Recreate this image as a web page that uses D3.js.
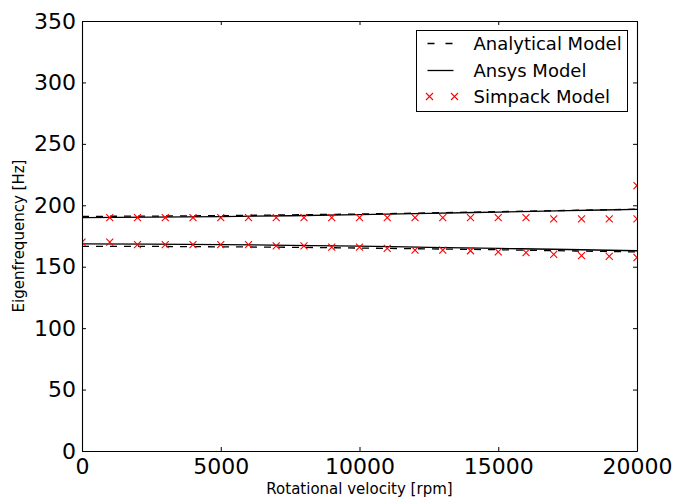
<!DOCTYPE html>
<html lang="en">
<head>
    <meta charset="UTF-8">
    <title>Eigenfrequency vs rotational velocity</title>
    <script src="https://d3js.org/d3.v7.min.js"></script>
    <style>
        body { margin: 0; background: #fff; }
        svg { font-family: "DejaVu Sans", sans-serif; }
    </style>
</head>
<body>
<div id="chart"></div>

<script>
    // Analytical / Ansys curves (two modes each)
    const curveRpm = [0, 2500, 5000, 7500, 10000, 12500, 15000, 17500, 20000];
    const analyticalUpper = [191.0, 191.2, 191.6, 192.2, 192.9, 193.8, 194.8, 195.8, 196.8];
    const analyticalLower = [166.6, 166.5, 166.2, 165.8, 165.2, 164.5, 163.8, 162.9, 162.0];
    const ansysUpper = [190.0, 190.3, 190.8, 191.5, 192.4, 193.4, 194.5, 195.6, 196.7];
    const ansysLower = [168.6, 168.4, 168.0, 167.4, 166.7, 165.8, 164.9, 164.0, 163.0];

    // Simpack points, every 1000 rpm
    const simpackRpm = [0, 1000, 2000, 3000, 4000, 5000, 6000, 7000, 8000, 9000, 10000,
        11000, 12000, 13000, 14000, 15000, 16000, 17000, 18000, 19000, 20000];
    const simpackUpper = [null, 190, 190, 190, 190, 190, 190, 190, 190, 190, 190,
        190, 190, 190, 190, 190, 190, 189, 189, 189, 189];
    const simpackLower = [170, 170, 168, 168, 168, 168, 168, 167, 167, 166, 166,
        165, 163.5, 163.5, 163, 162, 161.5, 160, 159, 158.5, 157.5];
    const simpackExtraRpm = [20000];
    const simpackExtra = [216];

    const xTicks = [0, 5000, 10000, 15000, 20000];
    const yTicks = [0, 50, 100, 150, 200, 250, 300, 350];
    const legendLabels = ["Analytical Model", "Ansys Model", "Simpack Model"];

    const W = 673, H = 497;
    const margin = {top: 21, right: 36, bottom: 46, left: 82};
    const w = W - margin.left - margin.right;
    const h = H - margin.top - margin.bottom;

    const svg = d3.select("#chart").append("svg")
        .attr("width", W)
        .attr("height", H);

    const g = svg.append("g").attr("transform", `translate(${margin.left},${margin.top})`);

    const x = d3.scaleLinear().domain([0, 20000]).range([0, w]);
    const y = d3.scaleLinear().domain([0, 350]).range([h, 0]);

    svg.append("defs").append("clipPath").attr("id", "plot-clip")
        .append("rect").attr("width", w).attr("height", h);

    const plot = g.append("g").attr("clip-path", "url(#plot-clip)");

    const line = d3.line()
        .x(d => x(d[0]))
        .y(d => y(d[1]))
        .curve(d3.curveMonotoneX);

    function pairs(xs, ys) {
        return xs.map((v, i) => [v, ys[i]]).filter(d => d[1] != null);
    }

    [ansysUpper, ansysLower].forEach(s => {
        plot.append("path")
            .attr("d", line(pairs(curveRpm, s)))
            .attr("fill", "none")
            .attr("stroke", "#000")
            .attr("stroke-width", 1.3);
    });
    [analyticalUpper, analyticalLower].forEach(s => {
        plot.append("path")
            .attr("d", line(pairs(curveRpm, s)))
            .attr("fill", "none")
            .attr("stroke", "#000")
            .attr("stroke-width", 1.3)
            .attr("stroke-dasharray", "7,7");
    });

    const cross = "M-3.5,-3.5L3.5,3.5M-3.5,3.5L3.5,-3.5";
    const simPoints = pairs(simpackRpm, simpackUpper)
        .concat(pairs(simpackRpm, simpackLower))
        .concat(pairs(simpackExtraRpm, simpackExtra));

    plot.selectAll(".sim")
        .data(simPoints)
        .join("path")
        .attr("class", "sim")
        .attr("d", cross)
        .attr("transform", d => `translate(${x(d[0])},${y(d[1])})`)
        .attr("stroke", "#ff0000")
        .attr("stroke-width", 1.1)
        .attr("fill", "none");

    // axes, ticks inside on all four sides
    function styleAxis(sel, showText) {
        sel.selectAll(".domain").attr("stroke", "#000").attr("stroke-width", 1.1);
        sel.selectAll(".tick line").attr("stroke", "#000").attr("stroke-width", 1);
        sel.selectAll(".tick text").attr("font-size", 22).attr("fill", "#000")
            .attr("font-family", "DejaVu Sans");
        if (!showText) sel.selectAll(".tick text").remove();
    }

    g.append("g").attr("transform", `translate(0,${h})`)
        .call(d3.axisBottom(x).tickValues(xTicks).tickFormat(d3.format("d"))
            .tickSizeInner(-4).tickSizeOuter(0).tickPadding(7))
        .call(s => styleAxis(s, true));
    g.append("g")
        .call(d3.axisTop(x).tickValues(xTicks).tickSizeInner(-4).tickSizeOuter(0))
        .call(s => styleAxis(s, false));
    g.append("g")
        .call(d3.axisLeft(y).tickValues(yTicks).tickFormat(d3.format("d"))
            .tickSizeInner(-4).tickSizeOuter(0).tickPadding(6))
        .call(s => styleAxis(s, true));
    g.append("g").attr("transform", `translate(${w},0)`)
        .call(d3.axisRight(y).tickValues(yTicks).tickSizeInner(-4).tickSizeOuter(0))
        .call(s => styleAxis(s, false));

    // axis labels
    svg.append("text")
        .attr("x", margin.left + w / 2)
        .attr("y", 494)
        .attr("text-anchor", "middle")
        .attr("font-size", 15)
        .text("Rotational velocity [rpm]");

    svg.append("text")
        .attr("transform", `translate(24,${margin.top + h / 2}) rotate(-90)`)
        .attr("text-anchor", "middle")
        .attr("font-size", 15)
        .text("Eigenfrequency [Hz]");

    // legend
    const legend = svg.append("g").attr("transform", "translate(416.5,30.5)");
    legend.append("rect")
        .attr("width", 211)
        .attr("height", 81)
        .attr("fill", "#fff")
        .attr("stroke", "#000")
        .attr("stroke-width", 1);

    const rowY = [13, 40, 66];
    legendLabels.forEach((lab, i) => {
        const row = legend.append("g").attr("transform", `translate(0,${rowY[i]})`);
        if (i < 2) {
            row.append("line")
                .attr("x1", 11).attr("x2", 37)
                .attr("stroke", "#000")
                .attr("stroke-width", 1.3)
                .attr("stroke-dasharray", i === 0 ? "7,11" : null);
        } else {
            [13, 38].forEach(cx => {
                row.append("path")
                    .attr("d", cross)
                    .attr("transform", `translate(${cx},0)`)
                    .attr("stroke", "#ff0000")
                    .attr("stroke-width", 1.1)
                    .attr("fill", "none");
            });
        }
        row.append("text")
            .attr("x", 57)
            .attr("dy", "0.35em")
            .attr("font-size", 18)
            .text(lab);
    });
</script>
</body>
</html>
